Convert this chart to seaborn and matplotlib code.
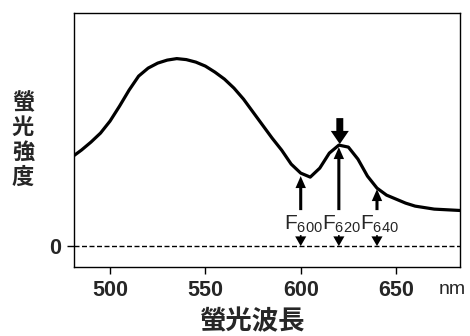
import matplotlib
matplotlib.use("Agg")
import matplotlib.pyplot as plt
import seaborn as sns

# emission spectrum, every 5 nm
wavelength = [480, 485, 490, 495, 500, 505, 510, 515, 520, 525, 530, 535,
              540, 545, 550, 555, 560, 565, 570, 575, 580, 585, 590, 595,
              600, 605, 610, 615, 620, 625, 630, 635, 640, 645, 650, 655,
              660, 665, 670, 675, 680, 685]
intensity = [0.89, 0.96, 1.04, 1.13, 1.25, 1.40, 1.56, 1.70, 1.78, 1.83,
             1.86, 1.875, 1.865, 1.84, 1.80, 1.74, 1.67, 1.58, 1.47, 1.34,
             1.21, 1.08, 0.96, 0.82, 0.73, 0.69, 0.78, 0.93, 1.01, 0.99,
             0.87, 0.70, 0.58, 0.51, 0.47, 0.43, 0.40, 0.385, 0.37, 0.365,
             0.36, 0.355]

# measuring points F600 / F620 / F640
mark_wl = [600, 620, 640]
mark_tip = [0.70, 0.99, 0.57]
mark_labels = ["F$_{600}$", "F$_{620}$", "F$_{640}$"]

xticks = [500, 550, 600, 650]

sns.set_style("ticks")
plt.rcParams["font.family"] = ["Liberation Sans", "DejaVu Sans"]
plt.rcParams["mathtext.default"] = "regular"

fig = plt.figure(figsize=(4.7, 3.36), dpi=100)
ax = fig.add_axes([0.157, 0.205, 0.822, 0.756])

sns.lineplot(x=wavelength, y=intensity, color="black", lw=2.3, ax=ax)
ax.axhline(0, color="black", lw=1.0, ls=(0, (3.6, 1.8)))

up = "simple,head_length=0.86,head_width=0.75,tail_width=0.22"
down_small = "simple,head_length=0.7,head_width=0.8,tail_width=0.12"
for wl, tip in zip(mark_wl, mark_tip):
    # arrow from the label up to the curve
    ax.annotate("", xy=(wl, tip), xytext=(wl, 0.36),
                arrowprops=dict(arrowstyle=up, mutation_scale=10, lw=0,
                                fc="black", ec="none", shrinkA=0, shrinkB=0))
    # small arrow down to the zero line
    ax.annotate("", xy=(wl, 0.0), xytext=(wl, 0.11),
                arrowprops=dict(arrowstyle=down_small, mutation_scale=10, lw=0,
                                fc="black", ec="none", shrinkA=0, shrinkB=0))

for wl, lab in zip(mark_wl, mark_labels):
    ax.text(wl + 1.5, 0.16, lab, ha="center", va="baseline", fontsize=15)

# thick arrow on top of the peak
ax.annotate("", xy=(620.5, 1.02), xytext=(620.5, 1.28),
            arrowprops=dict(arrowstyle="simple,head_length=0.95,head_width=1.3,tail_width=0.5",
                            mutation_scale=10, lw=0, fc="black", ec="none",
                            shrinkA=0, shrinkB=0))

ax.set_xlim(481, 683.6)
ax.set_ylim(-0.21, 2.33)
ax.set_xticks(xticks)
ax.set_xticklabels([str(t) for t in xticks], fontsize=15.5, fontweight="bold")
ax.set_yticks([0])
ax.set_yticklabels(["0"], fontsize=15.5, fontweight="bold")
ax.tick_params(direction="out", length=5, width=1.0, pad=4, color="black")
for sp in ax.spines.values():
    sp.set_visible(True)
    sp.set_linewidth(1.0)
    sp.set_color("black")
ax.set_xlabel("")
ax.set_ylabel("")

fig.text(452 / 470, 1 - 290 / 336, "nm", ha="center", va="center", fontsize=14)
fig.text(253 / 470, 1 - 322 / 336, "螢光波長", ha="center", va="center",
         fontsize=19, fontweight="bold", family=["Noto Sans CJK JP", "DejaVu Sans"])
fig.text(23 / 470, 1 - 140 / 336, "螢\n光\n強\n度", ha="center", va="center",
         fontsize=16, fontweight="bold", linespacing=1.1,
         family=["Noto Sans CJK JP", "DejaVu Sans"])

fig.savefig("out.png", dpi=100)
